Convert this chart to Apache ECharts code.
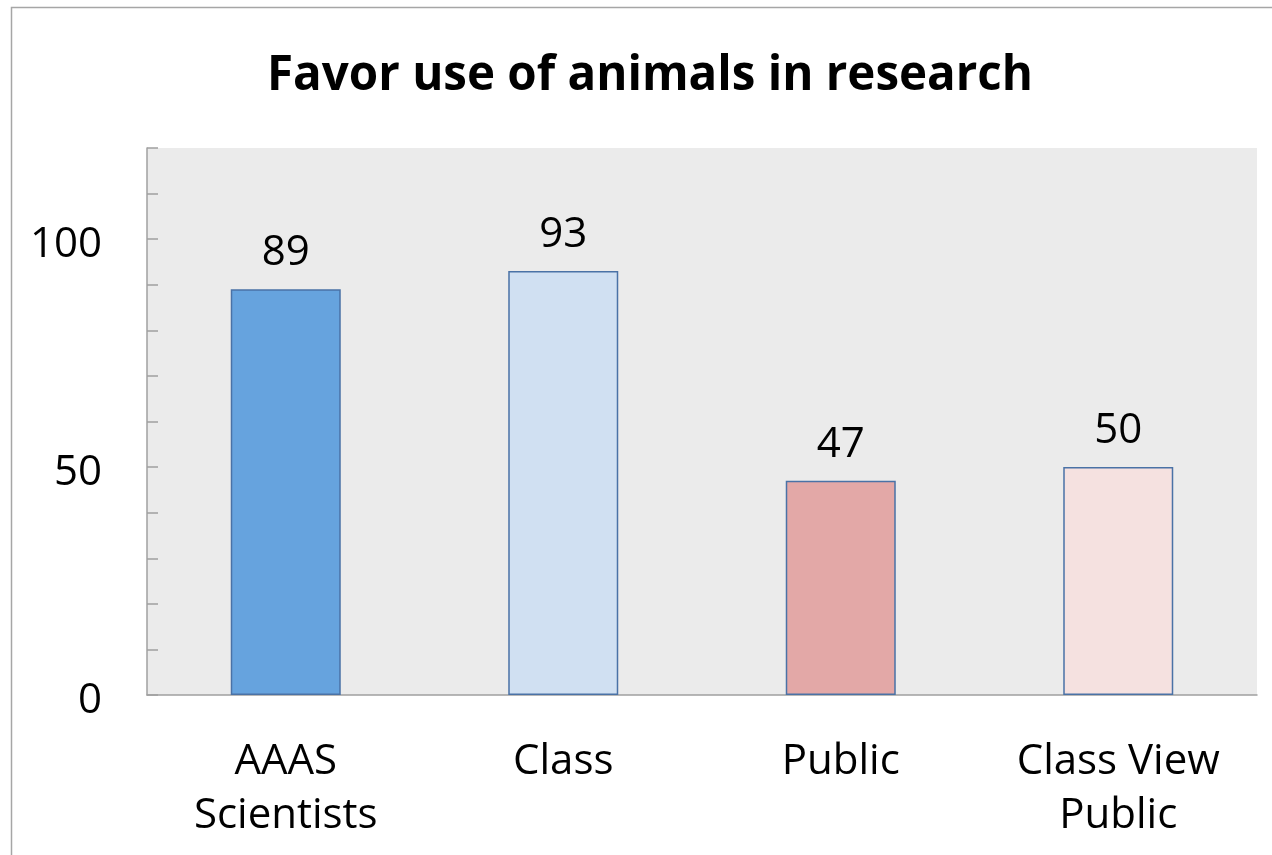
<!DOCTYPE html>
<html>
<head>
<meta charset="utf-8">
<script src="https://cdn.jsdelivr.net/npm/echarts@6/dist/echarts.min.js"></script>
<style>
html,body{margin:0;padding:0;background:#fff;}
#chart{width:1272px;height:855px;}
</style>
</head>
<body>
<div id="chart"></div>
<script>
const titleText = 'Favor use of animals in research';
const categories = ['AAAS\nScientists', 'Class', 'Public', 'Class View\nPublic'];
const values = [89, 93, 47, 50];
const barColors = ['#66a3de', '#d0e0f2', '#e3a8a7', '#f5e1e0'];
const yLabelValues = [0, 50, 100];

const FONT = '"Open Sans", "Liberation Sans", sans-serif';
const chart = echarts.init(document.getElementById('chart'));
chart.setOption({
  animation: false,
  backgroundColor: '#ffffff',
  graphic: [
    { type: 'rect', shape: { x: 11.5, y: 7.5, width: 1400, height: 1000 },
      style: { fill: 'none', stroke: '#a6a6a6', lineWidth: 1.5 }, silent: true, z: -10 },
    { type: 'text', x: 650, y: 76,
      style: { text: titleText, fill: '#000', font: 'bold 47.5px ' + FONT, textAlign: 'center', textVerticalAlign: 'middle' } }
  ],
  grid: { left: 147, top: 148, right: 15, bottom: 160, show: true, backgroundColor: '#ebebeb', borderWidth: 0 },
  xAxis: {
    type: 'category',
    data: categories,
    axisLine: { lineStyle: { color: '#a0a0a0', width: 1.5 } },
    axisTick: { show: false },
    axisLabel: { color: '#000', fontSize: 42, fontFamily: FONT, margin: 40, lineHeight: 54, interval: 0 }
  },
  yAxis: {
    type: 'value',
    min: 0, max: 120, interval: 10,
    splitLine: { show: false },
    axisLine: { show: true, lineStyle: { color: '#a0a0a0', width: 1.5 } },
    axisTick: { show: true, inside: true, length: 11, lineStyle: { color: '#a0a0a0', width: 1.5 } },
    axisLabel: {
      color: '#000', fontSize: 42, fontFamily: FONT, margin: 45,
      formatter: v => (yLabelValues.indexOf(v) >= 0 ? '{a|' + v + '}' : ''),
      rich: { a: { fontSize: 42, fontFamily: FONT, color: '#000', padding: [12, 0, 0, 0] } }
    }
  },
  series: [{
    type: 'bar',
    barWidth: 110,
    data: values.map((v, i) => ({ value: v, itemStyle: { color: barColors[i] } })),
    itemStyle: { borderColor: '#4a72a6', borderWidth: 1.5 },
    label: { show: true, position: 'top', distance: 15, color: '#000', fontSize: 42, fontFamily: FONT }
  }]
});
</script>
</body>
</html>
